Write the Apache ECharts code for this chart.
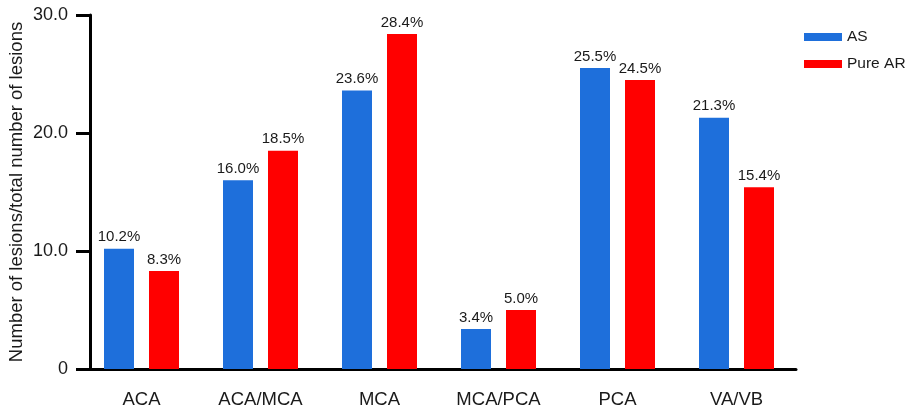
<!DOCTYPE html>
<html>
<head>
<meta charset="utf-8">
<script src="https://cdn.jsdelivr.net/npm/echarts@6/dist/echarts.min.js"></script>
<style>
  html, body { margin: 0; padding: 0; background: #fff; }
  #chart { width: 907px; height: 411px; }
</style>
</head>
<body>
<div id="chart"></div>
<script>
// categories and values
const categories = ['ACA', 'ACA/MCA', 'MCA', 'MCA/PCA', 'PCA', 'VA/VB']
const asValues = [10.2, 16.0, 23.6, 3.4, 25.5, 21.3]
const pureArValues = [8.3, 18.5, 28.4, 5.0, 24.5, 15.4]

const font = 'Liberation Sans, Arial, sans-serif'
const chart = echarts.init(document.getElementById('chart'))

const barLabel = {
  show: true,
  position: 'top',
  distance: 4,
  fontFamily: font,
  fontSize: 15,
  color: '#1a1a1a',
  formatter: p => p.value.toFixed(1) + '%'
}

const option = {
  animation: false,
  textStyle: { fontFamily: font },
  grid: {
    left: 82,
    right: 111,
    top: 15,
    bottom: 42,
    outerBoundsMode: 'none'
  },
  legend: {
    orient: 'vertical',
    left: 804,
    top: 29,
    padding: 0,
    itemWidth: 38,
    itemHeight: 8,
    itemGap: 11,
    icon: 'rect',
    textStyle: { fontSize: 15.5, color: '#1a1a1a', fontFamily: font },
    data: ['AS', 'Pure AR']
  },
  xAxis: {
    type: 'category',
    data: categories,
    axisLine: { lineStyle: { color: '#000', width: 3 } },
    axisTick: { alignWithLabel: true, length: 14, lineStyle: { color: '#000', width: 3 } },
    axisLabel: { fontSize: 18.5, color: '#1a1a1a', margin: 21, fontFamily: font }
  },
  yAxis: {
    type: 'value',
    min: 0,
    max: 30,
    interval: 10,
    offset: -8,
    name: 'Number of lesions/total number of lesions',
    nameLocation: 'middle',
    nameGap: 64,
    nameMoveOverlap: false,
    nameTextStyle: { fontSize: 18.5, color: '#1a1a1a', fontFamily: font },
    splitLine: { show: false },
    axisLine: { show: true, lineStyle: { color: '#000', width: 3 } },
    axisTick: { show: true, length: 14, lineStyle: { color: '#000', width: 3 } },
    axisLabel: {
      fontSize: 18,
      color: '#1a1a1a',
      margin: 22,
      fontFamily: font,
      formatter: v => v === 0 ? '0' : v.toFixed(1)
    }
  },
  series: [
    {
      name: 'AS',
      type: 'bar',
      data: asValues,
      barWidth: 30,
      barGap: '50%',
      itemStyle: { color: '#1e6fdb' },
      label: barLabel
    },
    {
      name: 'Pure AR',
      type: 'bar',
      data: pureArValues,
      barWidth: 30,
      itemStyle: { color: '#ff0000' },
      label: barLabel
    }
  ]
}

chart.setOption(option)
</script>
</body>
</html>
